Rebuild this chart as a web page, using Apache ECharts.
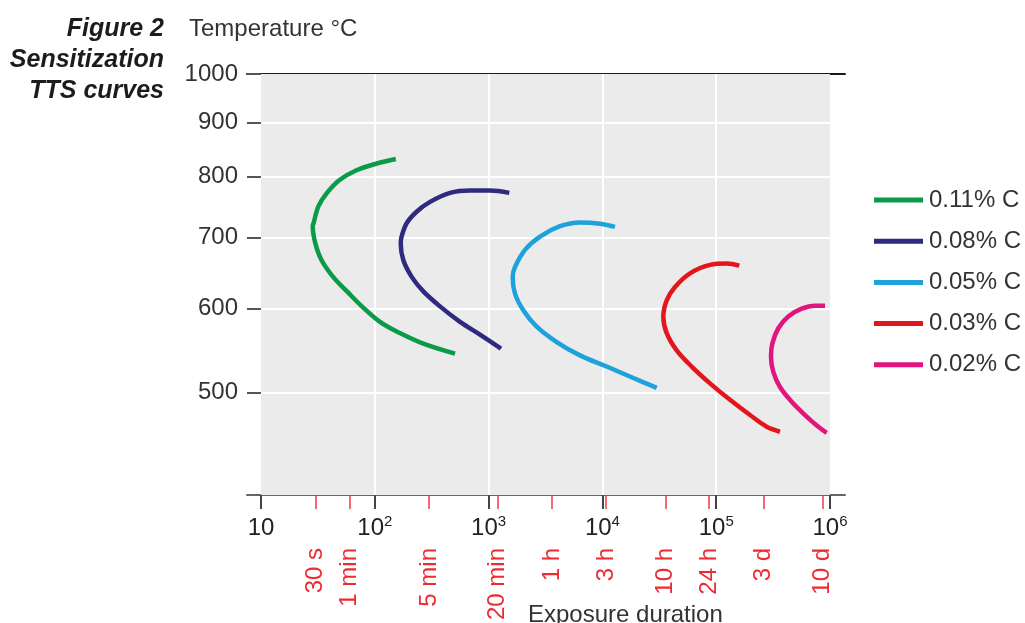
<!DOCTYPE html>
<html>
<head>
<meta charset="utf-8">
<script src="https://cdn.jsdelivr.net/npm/echarts@6/dist/echarts.min.js"></script>
<style>
html,body{margin:0;padding:0;background:#fff;}
#chart{width:1025px;height:623px;}
</style>
</head>
<body>
<div id="chart"></div>
<script>
// ---- data (time in seconds, temperature in °C) ----
var seriesNames = ['0.11% C', '0.08% C', '0.05% C', '0.03% C', '0.02% C'];
var seriesColors = ['#0b9a47', '#2d2a7f', '#1da2dc', '#e3161c', '#e2157f'];

var c011 = [[153,831],[104,823],[69,811],[49,794],[38,772],[32,750],[29,723],[28.5,718],[30,692],[34,667],[43,643],[57,623],[77,603],[111,583],[166,569],[267,556],[507,544]];
var c008 = [[1520,772],[1029,776],[686,776],[458,772],[306,757],[233,741],[191,723],[172,702],[169,692],[178,667],[211,643],[267,623],[374,603],[561,583],[840,567],[1285,550]];
var c005 = [[12900,717],[9526,722],[6357,724],[4240,718],[2829,702],[2089,682],[1706,657],[1628,643],[1706,620],[2018,598],[2647,577],[3967,558],[6357,542],[10910,529],[18690,516],[30010,505]];
var c003 = [[159600,659],[123700,662],[88200,660],[58880,648],[43450,629],[36730,611],[34290,590],[36730,569],[44960,548],[60910,529],[88200,510],[132200,492],[198200,476],[277800,464],[363600,459]];
var c002 = [[903800,604],[738200,604],[564000,600],[430100,590],[351300,575],[311200,556],[303000,540],[317500,523],[363600,506],[460700,490],[603000,476],[789300,464],[935400,458]];
var curves = [c011, c008, c005, c003, c002];

var tempTicks = [500, 600, 700, 800, 900, 1000];
var tempMin = 400, tempMax = 1000;
var timeDecades = [10, 100, 1000, 10000, 100000, 1000000];
var timeMarks = [30, 60, 300, 1200, 3600, 10800, 36000, 86400, 259200, 864000];
var timeMarkLabels = ['30 s', '1 min', '5 min', '20 min', '1 h', '3 h', '10 h', '24 h', '3 d', '10 d'];

// ---- build ----
var L = Math.log10;
var decLog = timeDecades.map(L);
var markLog = timeMarks.map(L);
var tempLog = tempTicks.map(L);
var xMin = 0.877, xMax = 6.1318;
var yMin = L(tempMin), yMax = L(tempMax);
var FONT = 'Liberation Sans, Arial, Helvetica, sans-serif';

var mainSeries = curves.map(function (c, i) {
  return {
    name: seriesNames[i],
    type: 'line',
    smooth: 0.35,
    showSymbol: false,
    symbol: 'none',
    z: 5,
    lineStyle: { color: seriesColors[i], width: 4.5 },
    itemStyle: { color: seriesColors[i] },
    data: c.map(function (p) { return [L(p[0]), L(p[1])]; })
  };
});

var gridLines = [];
decLog.slice(1, 5).forEach(function (v) {
  gridLines.push([{ xAxis: v, yAxis: yMin }, { xAxis: v, yAxis: yMax }]);
});
tempLog.slice(0, 5).forEach(function (v) {
  gridLines.push([{ xAxis: decLog[0], yAxis: v }, { xAxis: decLog[5], yAxis: v }]);
});

var helper = {
  name: 'bg',
  type: 'line',
  data: [],
  z: 1,
  silent: true,
  markArea: {
    silent: true,
    itemStyle: { color: '#ebebeb' },
    data: [[{ xAxis: decLog[0], yAxis: yMin }, { xAxis: decLog[5], yAxis: yMax }]]
  },
  markLine: {
    silent: true,
    symbol: 'none',
    label: { show: false },
    lineStyle: { color: '#ffffff', width: 2, type: 'solid' },
    data: gridLines
  }
};

var option = {
  animation: false,
  textStyle: { fontFamily: FONT },
  title: [
    {
      text: 'Temperature °C',
      left: 184, top: 12,
      textStyle: { fontFamily: FONT, fontSize: 24, fontWeight: 'normal', color: '#333' }
    },
    {
      text: 'Figure 2\nSensitization\nTTS curves',
      left: 159, top: 9,
      textAlign: 'right',
      textStyle: { fontFamily: FONT, fontSize: 25, fontWeight: 'bold', fontStyle: 'italic', color: '#1c1c1c', lineHeight: 31, align: 'right' }
    },
    {
      text: 'Exposure duration',
      left: 523, top: 598,
      textStyle: { fontFamily: FONT, fontSize: 24, fontWeight: 'normal', color: '#333' }
    }
  ],
  legend: {
    orient: 'vertical',
    left: 869, top: 183,
    data: seriesNames,
    icon: 'rect',
    itemWidth: 49, itemHeight: 5,
    itemGap: 17.2,
    selectedMode: false,
    textStyle: { fontFamily: FONT, fontSize: 24, color: '#333', lineHeight: 22, padding: [0, 0, 0, 1] }
  },
  grid: { left: 247, right: 180, top: 74, bottom: 128, containLabel: false },
  xAxis: [
    {
      type: 'value', min: xMin, max: xMax, position: 'bottom',
      axisLine: { show: true, onZero: false, lineStyle: { color: '#666', width: 2 } },
      axisTick: { show: true, customValues: decLog, length: 14, lineStyle: { color: '#444', width: 2 } },
      axisLabel: {
        customValues: decLog, margin: 19,
        formatter: function (v) {
          var n = Math.round(v);
          if (n === 1) return '{b|10}';
          return '{b|10}{s|' + n + '}';
        },
        rich: {
          b: { fontFamily: FONT, fontSize: 24, color: '#222', lineHeight: 26, verticalAlign: 'bottom' },
          s: { fontFamily: FONT, fontSize: 15, color: '#222', lineHeight: 26, verticalAlign: 'top', padding: [0, 0, 8, 0] }
        }
      },
      splitLine: { show: false }
    },
    {
      type: 'value', min: xMin, max: xMax, position: 'top',
      axisLine: { show: true, onZero: false, lineStyle: { color: '#1a1a1a', width: 2 } },
      axisTick: { show: false }, axisLabel: { show: false }, splitLine: { show: false }
    },
    {
      type: 'value', min: xMin, max: xMax, position: 'bottom',
      axisLine: { show: false, onZero: false },
      axisTick: { show: true, customValues: markLog, length: 14, lineStyle: { color: '#ee3b43', width: 1.5 } },
      axisLabel: {
        customValues: markLog, rotate: 90, margin: 53,
        color: '#ee2a33', fontFamily: FONT, fontSize: 24,
        formatter: function (v) {
          for (var i = 0; i < markLog.length; i++) {
            if (Math.abs(markLog[i] - v) < 1e-6) return timeMarkLabels[i];
          }
          return '';
        }
      },
      splitLine: { show: false }
    }
  ],
  yAxis: {
    type: 'value', min: yMin, max: yMax, position: 'left',
    axisLine: { show: false },
    axisTick: { show: true, inside: true, customValues: tempLog, length: 14, lineStyle: { color: '#555', width: 2 } },
    axisLabel: {
      customValues: tempLog, margin: 9,
      fontFamily: FONT, fontSize: 24, color: '#333',
      formatter: function (v) { return String(Math.round(Math.pow(10, v))); }
    },
    splitLine: { show: false }
  },
  series: [helper].concat(mainSeries)
};

var chart = echarts.init(document.getElementById('chart'), null, { renderer: 'canvas' });
chart.setOption(option);
</script>
</body>
</html>
